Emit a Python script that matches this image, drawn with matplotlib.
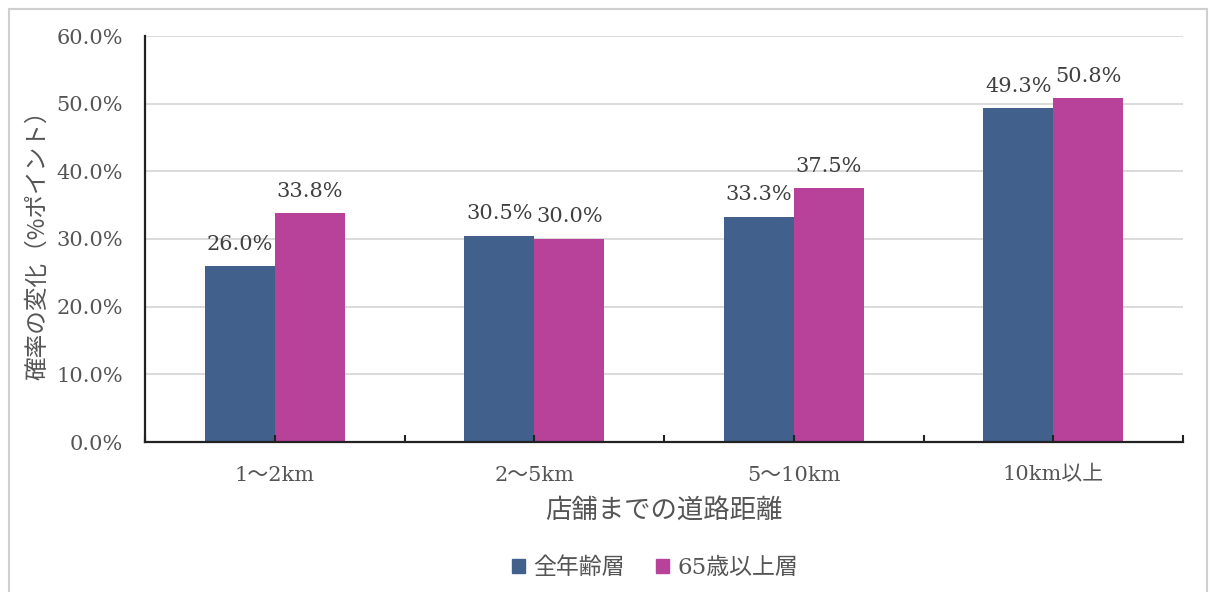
import matplotlib
matplotlib.use("Agg")
import matplotlib.pyplot as plt
from matplotlib.patches import Patch, Rectangle
from matplotlib.ticker import FuncFormatter, MultipleLocator
import numpy as np

# Data
categories = ["1～2km", "2～5km", "5～10km", "10km以上"]
series_names = ["全年齢層", "65歳以上層"]
all_ages = [26.0, 30.5, 33.3, 49.3]
age_65_plus = [33.8, 30.0, 37.5, 50.8]
y_ticks = [0, 10, 20, 30, 40, 50, 60]

colors = ["#41618c", "#b8419a"]
num_font = ["DejaVu Serif", "Noto Sans CJK JP"]
jp_font = ["Noto Sans CJK JP", "DejaVu Sans"]
text_gray = "#555555"

fig = plt.figure(figsize=(12.13, 5.92), dpi=100)
W, H = 1213, 592
ax = fig.add_axes([145 / W, 1 - 442 / H, (1183 - 145) / W, (442 - 36) / H])

x = np.arange(len(categories))
bw = 0.27
bars1 = ax.bar(x - bw / 2, all_ages, width=bw, color=colors[0], zorder=2)
bars2 = ax.bar(x + bw / 2, age_65_plus, width=bw, color=colors[1], zorder=2)

for bars, vals in ((bars1, all_ages), (bars2, age_65_plus)):
    for b, v in zip(bars, vals):
        ax.annotate(f"{v:.1f}%", (b.get_x() + b.get_width() / 2, v),
                    xytext=(0, 9), textcoords="offset points",
                    ha="center", va="bottom", fontsize=15,
                    family=num_font, color="#404040")

ax.set_xlim(-0.5, len(categories) - 0.5)
ax.set_ylim(0, 60)
ax.set_yticks(y_ticks)
ax.yaxis.set_major_formatter(FuncFormatter(lambda v, p: f"{v:.1f}%"))

# horizontal gridlines behind the bars; axis ticks drawn above the bars
for yv in y_ticks[1:]:
    ax.axhline(yv, color="#d4d4d4", linewidth=1.2, zorder=1)
ax.set_axisbelow(False)

# category labels at centres, small inward ticks every half category
ax.set_xticks(x)
ax.set_xticklabels(categories)
ax.xaxis.set_minor_locator(MultipleLocator(0.5))
ax.tick_params(axis="x", which="both", direction="in", length=5, width=1.5,
               color="#222222")
ax.tick_params(axis="x", which="major", pad=17, labelsize=15,
               labelcolor=text_gray)
ax.tick_params(axis="y", length=0, pad=16, labelsize=15, labelcolor=text_gray)
for lab in ax.get_xticklabels() + ax.get_yticklabels():
    lab.set_family(num_font)

for s in ("top", "right"):
    ax.spines[s].set_visible(False)
for s in ("left", "bottom"):
    ax.spines[s].set_linewidth(1.6)
    ax.spines[s].set_color("#222222")
    ax.spines[s].set_zorder(3)

ax.set_xlabel("店舗までの道路距離", fontsize=19, family=jp_font,
              color=text_gray, labelpad=9)
ax.set_ylabel("確率の変化（%ポイント）", fontsize=17, family=jp_font,
              color=text_gray, labelpad=5)

handles = [Patch(facecolor=c, edgecolor=c) for c in colors]
leg = fig.legend(handles, series_names, loc="center",
                 bbox_to_anchor=(655 / W, 1 - 568 / H), ncol=2, frameon=False,
                 handlelength=0.55, handleheight=0.55, handletextpad=0.35,
                 columnspacing=1.4, prop={"family": num_font, "size": 16.5})
for t in leg.get_texts():
    t.set_color(text_gray)

# outer frame of the chart area
fig.patches.append(Rectangle((9 / W, -0.05), (1207 - 9) / W, 1.05 - 9 / H,
                             transform=fig.transFigure, fill=False,
                             edgecolor="#d0d0d0", linewidth=1.5))

fig.savefig("out.png", dpi=100)
